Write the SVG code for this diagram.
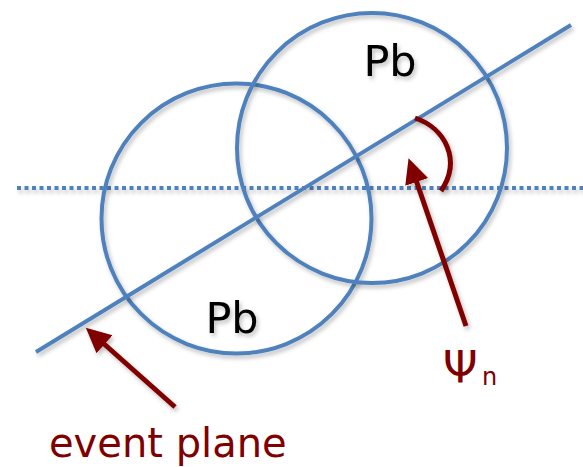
<svg xmlns="http://www.w3.org/2000/svg" width="583" height="467" viewBox="0 0 583 467">
  <style>
    .blue { fill: none; stroke: #4f81bd; stroke-width: 4; }
    .red { fill: none; stroke: #800000; stroke-width: 5; }
    .lbl { font-family: "DejaVu Sans", "Liberation Sans", sans-serif; }
    .pb { fill: #000; font-size: 43px; text-anchor: middle; }
    .rt { fill: #800000; }
  </style>
  <defs>
    <filter id="sh" filterUnits="userSpaceOnUse" x="0" y="0" width="583" height="467">
      <feDropShadow dx="2" dy="3" stdDeviation="2" flood-color="#000" flood-opacity="0.25"/>
    </filter>
    <marker id="ah" markerUnits="userSpaceOnUse" markerWidth="26" markerHeight="26" viewBox="0 -13 26 26" refX="2" refY="0" orient="auto">
      <path d="M0,-12 L25,0 L0,12 Z" fill="#800000"/>
    </marker>
  </defs>

  <g id="reference-axis" filter="url(#sh)">
    <line x1="17" y1="188" x2="583" y2="188" stroke="#4f81bd" stroke-width="4" stroke-dasharray="4 3.5"/>
  </g>

  <g id="nucleus-left" filter="url(#sh)">
    <circle class="blue" cx="236.5" cy="218.5" r="135"/>
    <text class="lbl pb" x="232" y="333">Pb</text>
  </g>

  <g id="nucleus-right" filter="url(#sh)">
    <circle class="blue" cx="372" cy="148" r="135"/>
    <text class="lbl pb" x="390" y="76">Pb</text>
  </g>

  <g id="event-plane-line" filter="url(#sh)">
    <line class="blue" x1="36" y1="352" x2="571" y2="25"/>
  </g>

  <g id="connectors" filter="url(#sh)">
    <line class="red" x1="175" y1="407" x2="103" y2="343" marker-end="url(#ah)"/>
    <line class="red" x1="466" y1="326" x2="416" y2="180" marker-end="url(#ah)"/>
    <path class="red" d="M415,118 C445,128 462,160 441,191"/>
  </g>

  <g id="label-event-plane">
    <text class="lbl rt" x="49" y="457" font-size="40">event plane</text>
  </g>

  <g id="label-psi">
    <text class="lbl rt" x="443" y="383" font-size="44">Ψ</text>
    <text class="lbl rt" x="482" y="385" font-size="24">n</text>
  </g>
</svg>
